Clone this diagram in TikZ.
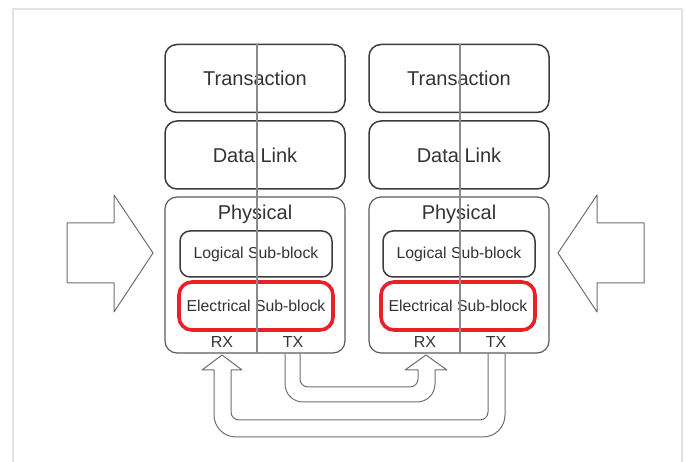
\documentclass[tikz,border=0pt]{standalone}
\usepackage{fontspec}
\setmainfont{Liberation Sans}
\definecolor{layeredge}{HTML}{3C3C3C}
\definecolor{physedge}{HTML}{5A5A5A}
\definecolor{splitline}{HTML}{8A8A8A}
\definecolor{subblockred}{HTML}{E8202A}
\definecolor{pipegray}{HTML}{6E6E6E}
\definecolor{framegray}{HTML}{E2E2E2}
\definecolor{labeltext}{HTML}{333333}

\begin{document}
\begin{tikzpicture}[
  x=1pt,
  y=-1pt,
  line join=round,
  layer/.style={draw=layeredge,line width=1.5pt,rounded corners=12pt,
    minimum width=180pt,minimum height=68pt,text=labeltext,
    font=\fontsize{20}{24}\selectfont},
  physical/.style={draw=physedge,line width=1.2pt,rounded corners=12pt,
    minimum width=180pt,minimum height=156pt},
  logical/.style={draw=layeredge,line width=1.5pt,rounded corners=10pt,
    minimum width=152pt,minimum height=46pt,text=labeltext,
    font=\fontsize{15.8}{19}\selectfont},
  electrical/.style={draw=subblockred,line width=3.6pt,rounded corners=13pt,
    minimum width=154pt,minimum height=48pt,text=labeltext,
    font=\fontsize{15.8}{19}\selectfont},
  title/.style={text=labeltext,font=\fontsize{20}{24}\selectfont},
  port/.style={text=labeltext,font=\fontsize{16}{19}\selectfont},
  split/.style={draw=splitline,line width=1.2pt},
  pipe/.style={draw=pipegray,line width=1pt},
  frame/.style={draw=framegray,line width=2pt}
]
  \useasboundingbox (0,0) rectangle (686,462);

  % Light page frame.
  \draw[frame] (13,462) -- (13,9) -- (682,9) -- (682,462);

  % Left stack.
  \node[layer] (tranL) at (255,78.5) {Transaction};
  \node[layer] (linkL) at (255,155) {Data Link};
  \node[physical] (physL) at (255,275) {};
  \node[title] (physLabelL) at (255,214) {Physical};
  \node[logical] (logL) at (256,254) {Logical Sub-block};
  \node[electrical] (elecL) at (256,306) {Electrical Sub-block};
  \node[port] (rxL) at (222,342) {RX};
  \node[port] (txL) at (293,342) {TX};

  % Right stack.
  \node[layer] (tranR) at (459,78.5) {Transaction};
  \node[layer] (linkR) at (459,155) {Data Link};
  \node[physical] (physR) at (459,275) {};
  \node[title] (physLabelR) at (459,214) {Physical};
  \node[logical] (logR) at (459,254) {Logical Sub-block};
  \node[electrical] (elecR) at (458,306) {Electrical Sub-block};
  \node[port] (rxR) at (425,342) {RX};
  \node[port] (txR) at (496,342) {TX};

  % The RX/TX split runs through every layer.
  \draw[split] (257,44) -- (257,353);
  \draw[split] (460,44) -- (460,353);

  % Incoming block arrows on both sides.
  \draw[pipe] (67,223) -- (114,223) -- (114,195) -- (153,253)
    -- (114,312) -- (114,283) -- (67,283) -- cycle;
  \draw[pipe] (644,223) -- (597,223) -- (597,195) -- (558,253)
    -- (597,312) -- (597,283) -- (644,283) -- cycle;

  % Left TX feeds right RX.
  \draw[pipe] (285,354) [rounded corners=18pt] -- (285,402) -- (435,402)
    [sharp corners] -- (435,370) -- (447,370) -- (426,355) -- (405,370)
    -- (418,370) [rounded corners=8pt] -- (418,387) -- (300,387)
    [sharp corners] -- (300,354);

  % Right TX feeds left RX.
  \draw[pipe] (505,354) [rounded corners=22pt] -- (505,437) -- (214,437)
    [sharp corners] -- (214,370) -- (202,370) -- (222,355) -- (242,370)
    -- (231,370) [rounded corners=8pt] -- (231,420) -- (488,420)
    [sharp corners] -- (488,354);
\end{tikzpicture}
\end{document}
